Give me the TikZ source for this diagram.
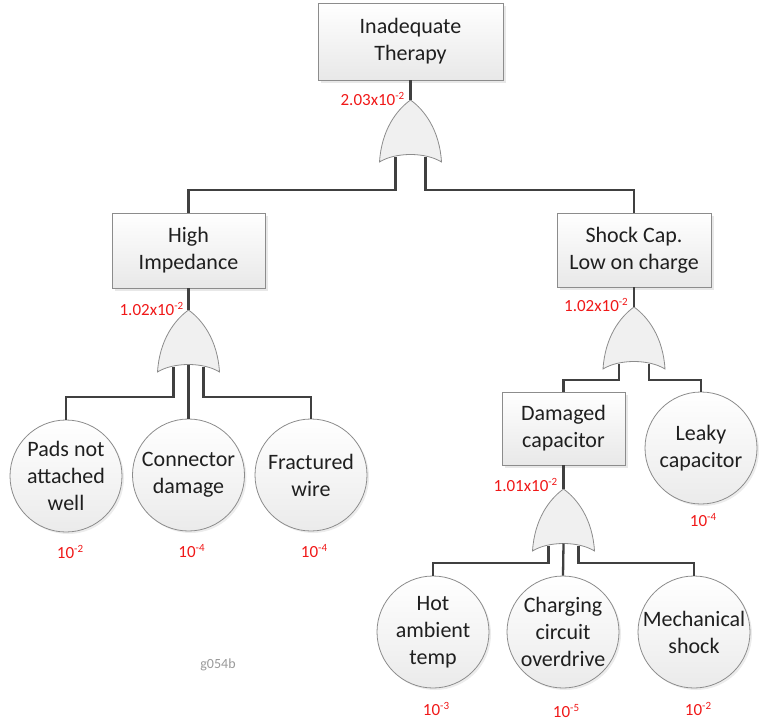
\documentclass[tikz,border=0pt]{standalone}
\usepackage{fontspec}
\setmainfont{Carlito}
\usetikzlibrary{shadows,calc}
\definecolor{edge}{HTML}{8C8C8C}
\definecolor{wire}{HTML}{404040}
\definecolor{lbl}{HTML}{F01818}
\newcommand{\pr}[2]{#1\raisebox{6pt}{\fontsize{11}{11}\selectfont #2}}
\tikzset{
  x=1pt, y=-1pt,
  evbox/.style={draw=edge, line width=0.8pt, top color=white, bottom color=black!9,
    align=center, inner sep=0pt, text=black!88,
    font=\fontsize{22}{27}\selectfont,
    drop shadow={opacity=0.18, shadow xshift=2.5pt, shadow yshift=-2.5pt}},
  evcirc/.style={circle, draw=edge, line width=0.8pt, top color=white, bottom color=black!8,
    minimum size=112pt, inner sep=0pt, align=center, text=black!88,
    font=\fontsize{22}{27}\selectfont,
    drop shadow={opacity=0.15, shadow xshift=2pt, shadow yshift=-2pt}},
  wirel/.style={draw=wire, line width=2.3pt},
  prob/.style={text=lbl, font=\fontsize{17}{19}\selectfont, inner sep=0pt},
  gatefill/.style={draw=edge, line width=0.8pt, fill=black!6},
  orgate/.pic={
    \path[gatefill] (0,0) .. controls (14,10) and (29,30) .. (31,62)
      .. controls (15,52) and (-15,52) .. (-31,62)
      .. controls (-29,30) and (-14,10) .. (0,0) -- cycle;
    \coordinate (-out) at (0,0);
    \coordinate (-l) at (-15,56.5);
    \coordinate (-m) at (0,54.5);
    \coordinate (-r) at (15,56.5);
  }
}
\begin{document}
\begin{tikzpicture}
\useasboundingbox (0,0) rectangle (759,723);

% event boxes
\node[evbox, minimum width=185pt, minimum height=77pt] (top) at (410.5,41.5) {Inadequate\\Therapy};
\node[evbox, minimum width=153pt, minimum height=75pt] (hi) at (188.5,250.5) {High\\Impedance};
\node[evbox, minimum width=154pt, minimum height=74pt] (sc) at (634,250) {Shock Cap.\\Low on charge};
\node[evbox, minimum width=123pt, minimum height=73pt] (dc) at (563.5,428.5) {Damaged\\capacitor};

% basic events
\node[evcirc] (pads) at (66,476) {Pads not\\attached\\well};
\node[evcirc] (conn) at (188.5,475) {Connector\\damage};
\node[evcirc] (frac) at (311,475) {Fractured\\wire};
\node[evcirc] (leaky) at (701,448) {Leaky\\capacitor};
\node[evcirc] (hot) at (433,632) {Hot\\ambient\\temp};
\node[evcirc] (chg) at (563,632) {Charging\\circuit\\overdrive};
\node[evcirc] (mech) at (694,632) {Mechanical\\shock};

% gates
\pic (g1) at (410.5,100) {orgate};
\pic (g2) at (188.5,310) {orgate};
\pic (g3) at (634,307) {orgate};
\pic (g4) at (563.5,489) {orgate};

% bus levels
\coordinate (b1) at (0,190);
\coordinate (b2) at (0,397);
\coordinate (b3) at (0,380);
\coordinate (b4) at (0,563);

% connectors
\draw[wirel] (top.south) -- (g1-out);
\draw[wirel] (g1-l) -- (g1-l |- b1) -| (hi.north);
\draw[wirel] (g1-r) -- (g1-r |- b1) -| (sc.north);

\draw[wirel] (hi.south) -- (g2-out);
\draw[wirel] (g2-l) -- (g2-l |- b2) -| (pads.north);
\draw[wirel] (g2-m) -- (conn.north);
\draw[wirel] (g2-r) -- (g2-r |- b2) -| (frac.north);

\draw[wirel] (sc.south) -- (g3-out);
\draw[wirel] (g3-l) -- (g3-l |- b3) -| (dc.north);
\draw[wirel] (g3-r) -- (g3-r |- b3) -| (leaky.north);

\draw[wirel] (dc.south) -- (g4-out);
\draw[wirel] (g4-l) -- (g4-l |- b4) -| (hot.north);
\draw[wirel] (g4-m) -- (chg.north);
\draw[wirel] (g4-r) -- (g4-r |- b4) -| (mech.north);

% gate probabilities
\node[prob, anchor=east] (p1) at ($(g1-out)+(-6,-1)$) {\pr{2.03x10}{-2}};
\node[prob, anchor=east] (p2) at ($(g2-out)+(-5,-1)$) {\pr{1.02x10}{-2}};
\node[prob, anchor=east] (p3) at ($(g3-out)+(-6,-2)$) {\pr{1.02x10}{-2}};
\node[prob, anchor=east] (p4) at ($(g4-out)+(-6,-4)$) {\pr{1.01x10}{-2}};

% basic event probabilities
\node[prob] (q1) at ($(pads.south)+(4,20)$) {\pr{10}{-2}};
\node[prob] (q2) at ($(conn.south)+(3,20)$) {\pr{10}{-4}};
\node[prob] (q3) at ($(frac.south)+(3,20)$) {\pr{10}{-4}};
\node[prob] (q4) at ($(leaky.south)+(2,16)$) {\pr{10}{-4}};
\node[prob] (q5) at ($(hot.south)+(3,21)$) {\pr{10}{-3}};
\node[prob] (q6) at ($(chg.south)+(3,23)$) {\pr{10}{-5}};
\node[prob] (q7) at ($(mech.south)+(4,21)$) {\pr{10}{-2}};

\node[text=black!40, font=\fontsize{14}{16}\selectfont, inner sep=0pt] (tag) at (218,665) {g054b};
\end{tikzpicture}
\end{document}
